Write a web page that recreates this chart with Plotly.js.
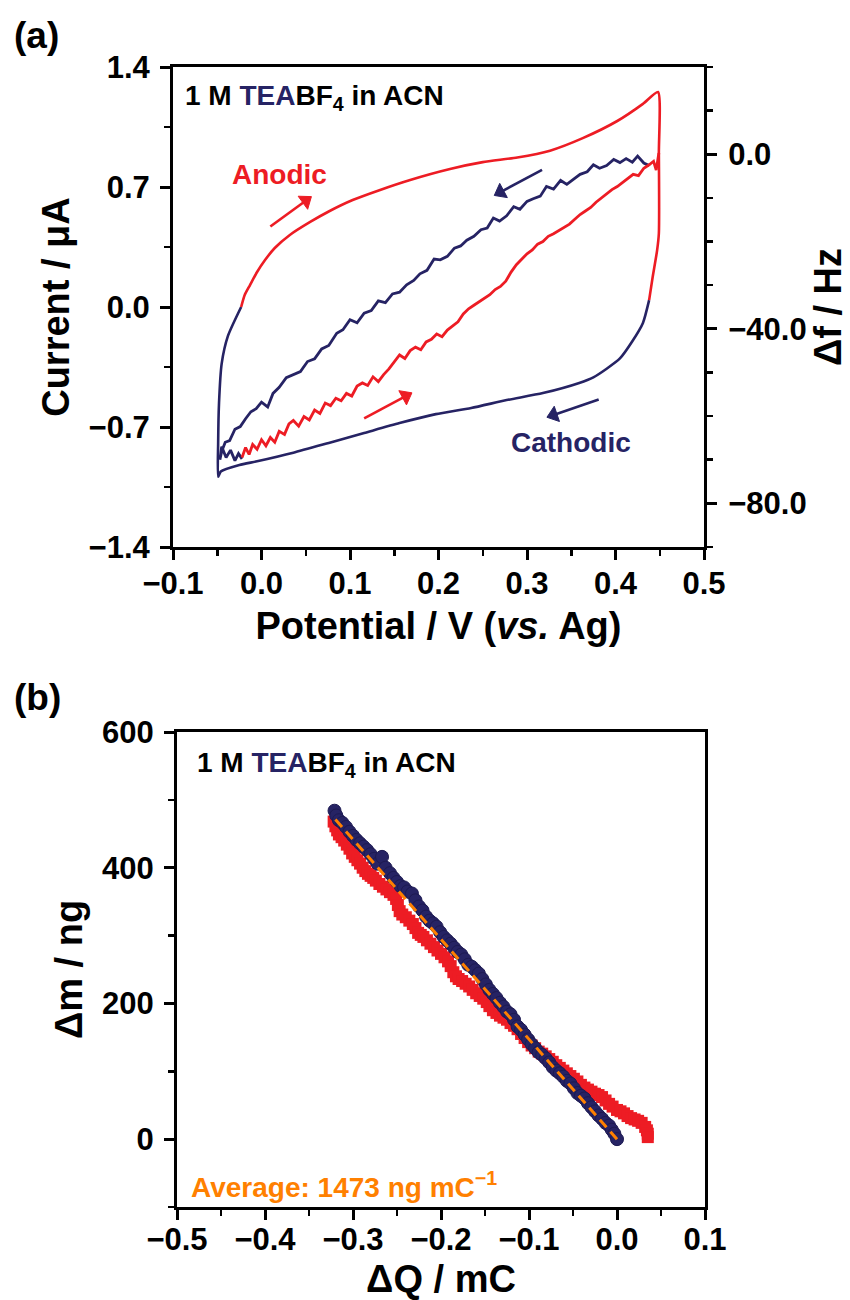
<!DOCTYPE html>
<html><head><meta charset="utf-8">
<script src="https://cdn.plot.ly/plotly-3.0.1.min.js"></script>
<style>html,body{margin:0;padding:0;background:#fff}</style>
</head><body>
<div id="chart" style="width:850px;height:1300px"></div>
<script>
// ---------- Panel (a): cyclic voltammogram (current, left axis) ----------
const cvAnodicV = [-0.023,-0.019,-0.013,-0.005,0.004,0.015,0.032,0.055,0.077,0.103,0.134,0.168,0.213,0.250,0.289,0.326,0.363,0.402,0.431,0.448,0.449,0.449,0.447,0.442,0.438];
const cvAnodicI = [0.0,0.07,0.128,0.204,0.274,0.344,0.42,0.496,0.56,0.624,0.683,0.741,0.805,0.845,0.872,0.912,0.985,1.085,1.185,1.254,0.9,0.43,0.33,0.175,0.04];
const cvCathodicV = [0.438,0.431,0.419,0.405,0.390,0.375,0.359,0.318,0.277,0.237,0.197,0.156,0.116,0.076,0.036,-0.005,-0.025,-0.046,-0.049,-0.049,-0.048,-0.045,-0.038,-0.023];
const cvCathodicI = [0.04,-0.093,-0.20,-0.30,-0.36,-0.41,-0.443,-0.502,-0.543,-0.589,-0.625,-0.677,-0.735,-0.793,-0.850,-0.900,-0.922,-0.960,-0.99,-0.80,-0.56,-0.33,-0.17,0.0];

// ---------- Panel (a): frequency change (right axis) ----------
const dfCathodicV = [0.438,0.432,0.425,0.419,0.412,0.405,0.398,0.390,0.382,0.375,0.368,0.360,0.352,0.345,0.338,0.330,0.322,0.315,0.307,0.300,0.292,0.285,0.277,0.269,0.262,0.255,0.248,0.240,0.232,0.225,0.218,0.210,0.202,0.195,0.187,0.179,0.172,0.164,0.156,0.148,0.140,0.132,0.124,0.116,0.108,0.100,0.092,0.085,0.076,0.068,0.060,0.052,0.044,0.036,0.028,0.020,0.013,0.007,0.000,-0.006,-0.012,-0.018,-0.024,-0.030,-0.036,-0.041,-0.045,-0.047,-0.045,-0.040,-0.035,-0.030,-0.026,-0.022];
const dfCathodicHz = [-2.6,-2.0,-0.4,-1.8,-1.0,-1.9,-1.2,-2.6,-3.2,-2.4,-4.0,-4.6,-5.8,-6.9,-6.0,-8.0,-7.4,-9.6,-10.2,-10.8,-12.6,-12.0,-14.1,-15.3,-14.6,-16.9,-17.3,-18.8,-19.7,-21.0,-21.5,-23.4,-24.2,-24.0,-26.6,-27.4,-28.9,-29.9,-31.6,-32.0,-34.0,-33.6,-35.8,-36.4,-38.6,-37.9,-40.2,-41.0,-43.8,-44.6,-46.9,-47.5,-49.8,-50.5,-51.2,-53.4,-54.8,-57.9,-56.8,-58.3,-59.0,-60.6,-62.4,-63.0,-65.6,-66.0,-68.1,-70.0,-67.0,-69.5,-67.8,-70.2,-68.6,-69.8];
const dfAnodicV = [-0.022,-0.018,-0.014,-0.010,-0.005,0.000,0.005,0.010,0.015,0.020,0.026,0.031,0.036,0.042,0.048,0.054,0.060,0.066,0.072,0.078,0.084,0.090,0.096,0.102,0.108,0.114,0.120,0.126,0.132,0.138,0.144,0.150,0.156,0.162,0.168,0.174,0.180,0.186,0.192,0.198,0.204,0.210,0.216,0.222,0.228,0.234,0.240,0.246,0.252,0.258,0.264,0.270,0.276,0.282,0.288,0.294,0.300,0.306,0.312,0.318,0.324,0.330,0.336,0.342,0.348,0.354,0.360,0.366,0.372,0.378,0.384,0.390,0.396,0.402,0.408,0.414,0.420,0.426,0.432,0.438,0.443,0.446,0.448,0.449];
const dfAnodicHz = [-69.5,-67.2,-68.8,-66.5,-67.6,-65.4,-66.8,-64.9,-66.0,-63.5,-64.2,-61.8,-61.0,-62.3,-60.1,-60.9,-58.6,-59.4,-57.0,-57.6,-55.9,-56.5,-54.8,-55.4,-53.1,-52.4,-53.0,-51.0,-52.1,-50.5,-49.2,-47.6,-46.0,-46.8,-45.0,-44.2,-44.8,-43.0,-42.4,-41.2,-41.8,-40.3,-39.3,-38.4,-36.6,-35.4,-34.6,-33.8,-32.9,-32.2,-31.0,-30.3,-29.1,-27.0,-25.3,-24.1,-22.8,-21.9,-20.6,-20.0,-18.8,-18.2,-17.4,-16.6,-16.0,-14.9,-13.8,-13.0,-12.2,-11.0,-10.0,-9.2,-8.1,-7.4,-6.5,-5.7,-4.6,-4.9,-3.2,-2.4,-1.6,-3.6,-1.0,0.3];

// ---------- Panel (a): scan-direction arrows (tail, head) ----------
const arrowAnodicTopV = [0.010, 0.050];
const arrowAnodicTopI = [0.47, 0.62];
const arrowCathodicTopV = [0.317, 0.270];
const arrowCathodicTopI = [0.80, 0.67];
const arrowAnodicBotV = [0.116, 0.163];
const arrowAnodicBotI = [-0.65, -0.52];
const arrowCathodicBotV = [0.381, 0.330];
const arrowCathodicBotI = [-0.54, -0.63];

// ---------- Panel (b): mass change vs charge ----------
const anodicQ = [-0.322,-0.320,-0.318,-0.316,-0.313,-0.310,-0.307,-0.304,-0.301,-0.298,-0.295,-0.292,-0.289,-0.286,-0.283,-0.280,-0.277,-0.274,-0.270,-0.266,-0.262,-0.258,-0.254,-0.251,-0.249,-0.247,-0.244,-0.240,-0.236,-0.232,-0.229,-0.226,-0.223,-0.220,-0.216,-0.212,-0.208,-0.204,-0.200,-0.196,-0.192,-0.189,-0.186,-0.183,-0.180,-0.176,-0.172,-0.168,-0.164,-0.160,-0.156,-0.152,-0.148,-0.145,-0.141,-0.137,-0.133,-0.129,-0.125,-0.121,-0.117,-0.113,-0.109,-0.105,-0.101,-0.097,-0.093,-0.089,-0.085,-0.081,-0.077,-0.073,-0.069,-0.065,-0.061,-0.057,-0.053,-0.049,-0.045,-0.041,-0.037,-0.033,-0.029,-0.025,-0.021,-0.017,-0.013,-0.009,-0.005,0.000,0.004,0.008,0.012,0.016,0.020,0.024,0.028,0.032,0.034,0.035,0.035];
const anodicM = [468,461,455,449,445,440,434,428,421,416,411,406,400,395,391,388,385,381,376,372,368,364,360,354,345,336,331,327,322,317,311,304,301,298,293,288,283,278,273,268,262,255,246,240,236,233,229,225,220,215,211,207,202,196,190,186,182,179,176,171,167,162,155,149,143,138,134,129,126,122,118,114,109,105,101,97,93,89,85,80,76,73,70,67,65,62,57,52,48,43,41,38,34,31,29,27,24,18,13,8,3];
const cathodicQ = [-0.321,-0.319,-0.316,-0.312,-0.308,-0.304,-0.300,-0.296,-0.292,-0.288,-0.284,-0.280,-0.276,-0.272,-0.267,-0.263,-0.258,-0.254,-0.250,-0.246,-0.242,-0.238,-0.233,-0.229,-0.225,-0.221,-0.217,-0.213,-0.209,-0.205,-0.201,-0.197,-0.193,-0.189,-0.185,-0.181,-0.177,-0.173,-0.169,-0.165,-0.161,-0.157,-0.153,-0.149,-0.145,-0.141,-0.137,-0.133,-0.129,-0.125,-0.121,-0.117,-0.113,-0.109,-0.105,-0.101,-0.097,-0.093,-0.089,-0.085,-0.081,-0.077,-0.073,-0.069,-0.065,-0.061,-0.057,-0.053,-0.049,-0.045,-0.041,-0.037,-0.033,-0.029,-0.025,-0.021,-0.017,-0.013,-0.009,-0.006,-0.003,0.000];
const cathodicM = [484,477,470,466,460,453,447,441,436,431,426,420,413,406,416,400,392,385,379,373,371,365,362,352,343,337,328,322,318,313,305,298,293,288,282,276,272,265,257,254,249,244,236,228,220,214,208,201,195,188,184,176,166,161,154,147,140,134,128,124,119,113,106,101,97,92,86,82,75,68,64,60,53,47,41,35,30,24,20,14,8,0];
const fitQ = [-0.32, 0.0];
const fitM = [471, 0];

// ---------- styling ----------
const RED = '#ED1C24', NAVY = '#262364', ORANGE = '#FF8000';
const FAM = 'Liberation Sans, Arial, Helvetica, sans-serif';
const tickFont = {family: FAM, size: 31, color: '#000', weight: 'bold'};
const titleFont = {family: FAM, size: 38, color: '#000', weight: 'bold'};
const W = 850, H = 1300;
const px = v => v / W, py = v => 1 - v / H;

function arrowTrace(xs, ys, color) {
  return {x: xs, y: ys, xaxis: 'x', yaxis: 'y', mode: 'lines+markers', hoverinfo: 'skip',
    line: {color: color, width: 2.6},
    marker: {symbol: ['circle', 'triangle-up'], size: [0, 14], color: color, opacity: 1,
             angleref: 'previous', line: {color: color, width: 1}}};
}

const traces = [
  {x: cvCathodicV, y: cvCathodicI, xaxis: 'x', yaxis: 'y', mode: 'lines', line: {color: NAVY, width: 2.6, shape: 'spline', smoothing: 0.6}, name: 'CV cathodic'},
  {x: cvAnodicV, y: cvAnodicI, xaxis: 'x', yaxis: 'y', mode: 'lines', line: {color: RED, width: 2.6, shape: 'spline', smoothing: 0.6}, name: 'CV anodic'},
  {x: dfCathodicV, y: dfCathodicHz, xaxis: 'x', yaxis: 'y2', mode: 'lines', line: {color: NAVY, width: 2.8}, name: 'Δf cathodic'},
  {x: dfAnodicV, y: dfAnodicHz, xaxis: 'x', yaxis: 'y2', mode: 'lines', line: {color: RED, width: 2.8}, name: 'Δf anodic'},
  arrowTrace(arrowAnodicTopV, arrowAnodicTopI, RED),
  arrowTrace(arrowCathodicTopV, arrowCathodicTopI, NAVY),
  arrowTrace(arrowAnodicBotV, arrowAnodicBotI, RED),
  arrowTrace(arrowCathodicBotV, arrowCathodicBotI, NAVY),
  {x: anodicQ, y: anodicM, xaxis: 'x2', yaxis: 'y3', mode: 'markers', marker: {symbol: 'square', size: 12, color: RED}, name: 'anodic'},
  {x: cathodicQ, y: cathodicM, xaxis: 'x2', yaxis: 'y3', mode: 'markers', marker: {symbol: 'circle', size: 13, color: NAVY, line: {color: '#1d1a52', width: 1}}, name: 'cathodic'},
  {x: fitQ, y: fitM, xaxis: 'x2', yaxis: 'y3', mode: 'lines', line: {color: ORANGE, width: 3, dash: '10px,6px'}, name: 'fit'}
];

const axBase = {
  showline: true, linewidth: 3, linecolor: '#000', mirror: true,
  ticks: 'outside', ticklen: 10, tickwidth: 3, tickcolor: '#000',
  showgrid: false, zeroline: false, tickfont: tickFont, fixedrange: true
};
const minorBase = {ticks: 'outside', ticklen: 6, tickwidth: 2.5, tickcolor: '#000', showgrid: false};

const layout = {
  width: W, height: H, margin: {l: 0, r: 0, t: 0, b: 0},
  paper_bgcolor: '#fff', plot_bgcolor: 'rgba(0,0,0,0)', showlegend: false,
  font: {family: FAM},
  xaxis: Object.assign({}, axBase, {
    domain: [px(173), px(704)], anchor: 'y', range: [-0.1, 0.5], tick0: 0, dtick: 0.1, tickformat: '.1f',
    ticklabelstandoff: -3,
    minor: Object.assign({dtick: 0.05}, minorBase),
    title: {text: 'Potential / V (<i>vs.</i> Ag)', font: titleFont, standoff: 13}
  }),
  yaxis: Object.assign({}, axBase, {
    domain: [py(547), py(67)], anchor: 'x', range: [-1.4, 1.4], tick0: 0, dtick: 0.7, tickformat: '.1f',
    ticklabelstandoff: 4,
    minor: Object.assign({dtick: 0.35}, minorBase),
    title: {text: 'Current / μA', font: titleFont, standoff: 8}
  }),
  yaxis2: Object.assign({}, axBase, {
    overlaying: 'y', side: 'right', anchor: 'x', range: [-90, 20], tick0: 0, dtick: 40, tickformat: '.1f',
    ticklabelstandoff: 5,
    minor: Object.assign({dtick: 10}, minorBase), mirror: false,
    title: {text: 'Δf / Hz', font: titleFont, standoff: 3}
  }),
  xaxis2: Object.assign({}, axBase, {
    domain: [px(177), px(705)], anchor: 'y3', range: [-0.5, 0.1], tick0: 0, dtick: 0.1, tickformat: '.1f',
    ticklabelstandoff: -7,
    minor: Object.assign({dtick: 0.05}, minorBase),
    title: {text: 'ΔQ / mC', font: titleFont, standoff: 19}
  }),
  yaxis3: Object.assign({}, axBase, {
    domain: [py(1207), py(732)], anchor: 'x2', range: [-100, 600], tick0: 0, dtick: 200,
    ticklabelstandoff: 4,
    minor: Object.assign({dtick: 100}, minorBase),
    title: {text: 'Δm / ng', font: titleFont, standoff: 8}
  }),
  annotations: [
    {xref: 'paper', yref: 'paper', x: px(36), y: py(36), text: '(a)', showarrow: false, xanchor: 'center', yanchor: 'middle', font: {family: FAM, size: 37, color: '#000', weight: 'bold'}},
    {xref: 'paper', yref: 'paper', x: px(37), y: py(697), text: '(b)', showarrow: false, xanchor: 'center', yanchor: 'middle', font: {family: FAM, size: 37, color: '#000', weight: 'bold'}},
    {xref: 'paper', yref: 'paper', x: px(183), y: py(97), text: '1 M <span style="color:' + NAVY + '">TEA</span>BF<sub>4</sub> in ACN', showarrow: false, xanchor: 'left', yanchor: 'middle', font: {family: FAM, size: 28, color: '#000', weight: 'bold'}},
    {xref: 'paper', yref: 'paper', x: px(195), y: py(764), text: '1 M <span style="color:' + NAVY + '">TEA</span>BF<sub>4</sub> in ACN', showarrow: false, xanchor: 'left', yanchor: 'middle', font: {family: FAM, size: 28, color: '#000', weight: 'bold'}},
    {xref: 'paper', yref: 'paper', x: px(279), y: py(175), text: 'Anodic', showarrow: false, xanchor: 'center', yanchor: 'middle', font: {family: FAM, size: 28, color: RED, weight: 'bold'}},
    {xref: 'paper', yref: 'paper', x: px(571), y: py(443), text: 'Cathodic', showarrow: false, xanchor: 'center', yanchor: 'middle', font: {family: FAM, size: 28, color: NAVY, weight: 'bold'}},
    {xref: 'paper', yref: 'paper', x: px(189), y: py(1185), text: 'Average: 1473 ng mC<sup>−1</sup>', showarrow: false, xanchor: 'left', yanchor: 'middle', font: {family: FAM, size: 28, color: ORANGE, weight: 'bold'}}
  ]
};

Plotly.newPlot('chart', traces, layout, {staticPlot: true, displayModeBar: false});
</script>
</body></html>
